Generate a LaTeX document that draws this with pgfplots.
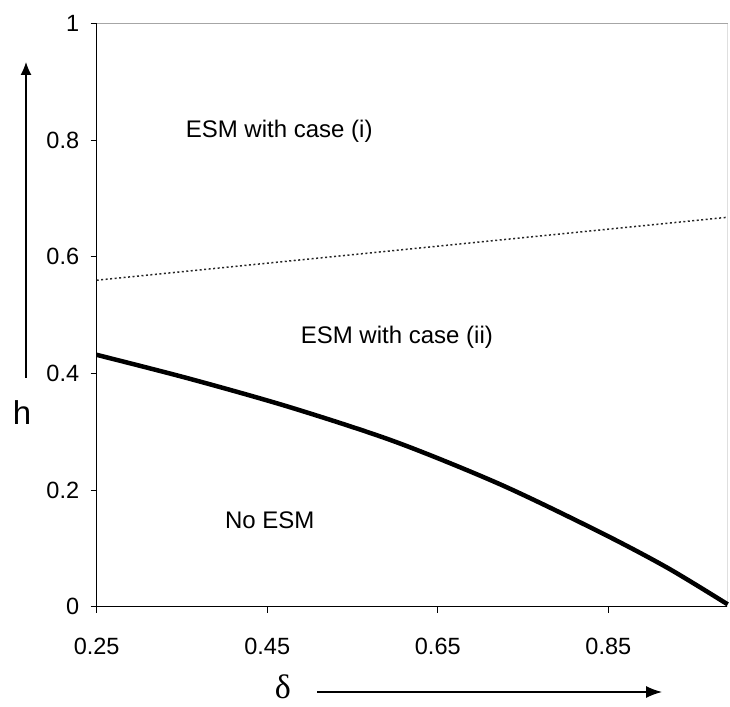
\documentclass[border=0pt]{standalone}
\usepackage{pgfplots}
\pgfplotsset{compat=1.18}
\usetikzlibrary{arrows.meta}
\usepackage{fontspec}
\setmainfont{Liberation Sans}
\newfontfamily\greekfont{Liberation Serif}

\begin{document}
\begin{tikzpicture}
\useasboundingbox (0,0) rectangle (730pt,706pt);
\begin{axis}[at={(96.7pt,99.3pt)},anchor=south west,
  scale only axis,width=631pt,height=583pt,
  xmin=0.25,xmax=0.99,ymin=0,ymax=1,
  axis x line*=bottom,axis y line*=left,
  axis line style={black,line width=1.3pt,-},
  xtick={0.25,0.45,0.65,0.85},xticklabels={0.25,0.45,0.65,0.85},
  ytick={0,0.2,0.4,0.6,0.8,1},yticklabels={0,0.2,0.4,0.6,0.8,1},
  tick align=outside,major tick length=6pt,
  tick style={black,line width=0.8pt},
  /pgf/number format/assume math mode=true,
  tick label style={font=\fontsize{23.5}{23.5}\selectfont},
  xticklabel style={yshift=-22pt},
  yticklabel style={xshift=-8pt},
  clip=false]
% top and right frame
\draw[gray!70,line width=1.2pt] (rel axis cs:0,1) -- (rel axis cs:1,1);
\draw[gray!25,line width=0.8pt] (rel axis cs:1,0) -- (rel axis cs:1,1);
% boundary case (i) / case (ii)
\addplot[black!85,line width=1.5pt,dash pattern=on 2pt off 2.5pt] coordinates {
(0.25,0.560) (0.99,0.668)
};
% boundary ESM / no ESM
\addplot[black,line width=4.5pt,smooth] coordinates {
(0.25,0.432) (0.359,0.391) (0.477,0.342) (0.60,0.283)
(0.723,0.210) (0.84,0.128) (0.919,0.067) (0.99,0.004)
};
\node[font=\fontsize{24}{24}\selectfont] at (axis cs:0.464,0.816) {ESM with case (i)};
\node[font=\fontsize{24}{24}\selectfont] at (axis cs:0.602,0.462) {ESM with case (ii)};
\node[font=\fontsize{24}{24}\selectfont] at (axis cs:0.453,0.149) {No ESM};
\end{axis}
\draw[-{Latex[length=13pt,width=11pt]},line width=1.3pt] (26pt,328pt) -- (26pt,644pt);
\node[font=\fontsize{33}{33}\selectfont] at (22pt,293pt) {h};
\node[font=\fontsize{34}{34}\greekfont,anchor=base] at (283pt,8pt) {δ};
\draw[-{Latex[length=16pt,width=12pt]},line width=1.3pt] (317pt,14pt) -- (662pt,14pt);
\end{tikzpicture}
\end{document}
